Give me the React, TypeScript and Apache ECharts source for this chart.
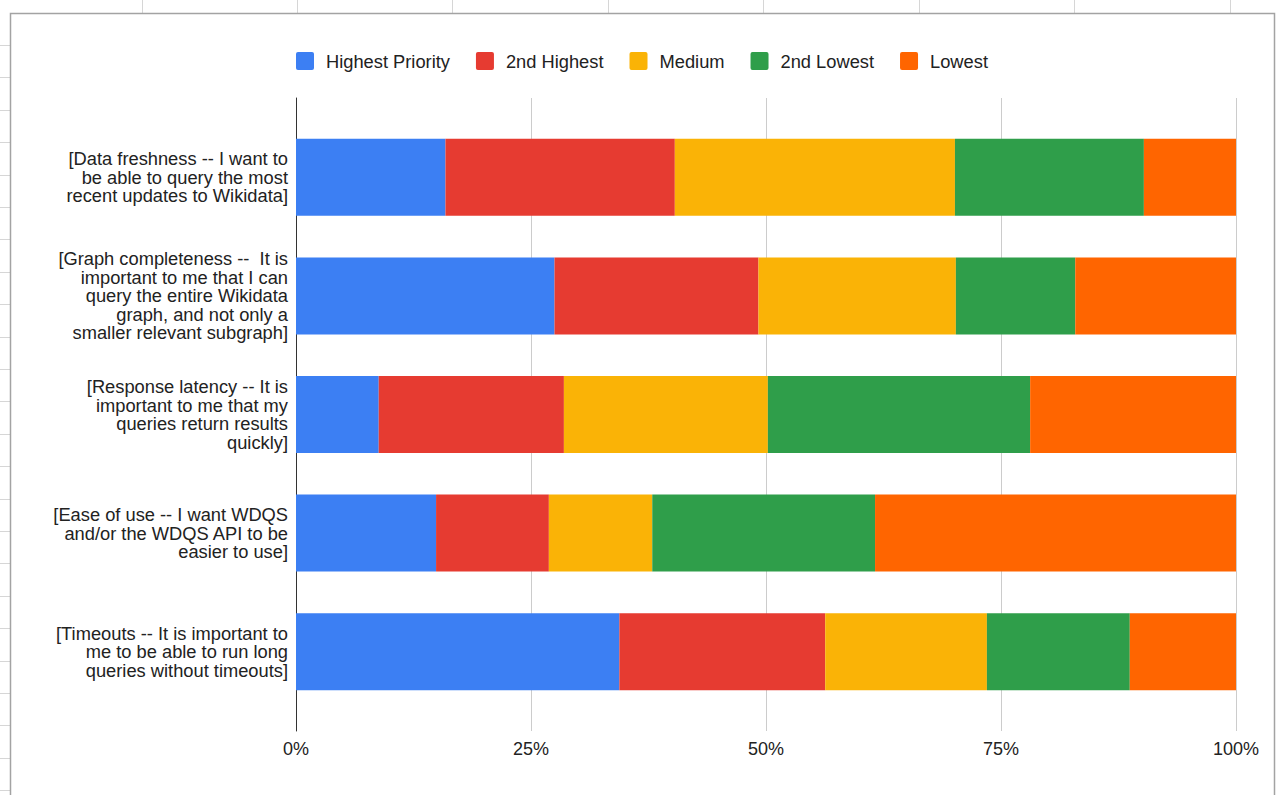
import React, { useEffect, useRef } from "react";
import * as echarts from "echarts";

const categories = [
  "[Data freshness -- I want to\nbe able to query the most\nrecent updates to Wikidata]",
  "[Graph completeness --  It is\nimportant to me that I can\nquery the entire Wikidata\ngraph, and not only a\nsmaller relevant subgraph]",
  "[Response latency -- It is\nimportant to me that my\nqueries return results\nquickly]",
  "[Ease of use -- I want WDQS\nand/or the WDQS API to be\neasier to use]",
  "[Timeouts -- It is important to\nme to be able to run long\nqueries without timeouts]",
];

const seriesNames = ["Highest Priority", "2nd Highest", "Medium", "2nd Lowest", "Lowest"];
const highestPriority = [15.9, 27.5, 8.8, 14.9, 34.4];
const secondHighest = [24.4, 21.7, 19.7, 12.0, 21.9];
const medium = [29.8, 21.0, 21.7, 11.0, 17.2];
const secondLowest = [20.1, 12.7, 27.9, 23.7, 15.2];
const lowest = [9.8, 17.1, 21.9, 38.4, 11.3];
const seriesValues = [highestPriority, secondHighest, medium, secondLowest, lowest];
const colors = ["#3c7ff3", "#e63b31", "#fab306", "#2f9e4a", "#ff6500"];
const xMin = 0;
const xMax = 100;
const xInterval = 25;

const FONT = "'Liberation Sans', Arial, Helvetica, sans-serif";

export default function App() {
  const ref = useRef<HTMLDivElement>(null);
  useEffect(() => {
    if (!ref.current) return;
    const chart = echarts.init(ref.current, null, { renderer: "svg" });

    const decor: any[] = [];
    // spreadsheet cell lines outside the chart frame
    [142, 297, 452, 608, 763, 919, 1074, 1230].forEach((x) => {
      decor.push({
        type: "line",
        shape: { x1: x + 0.5, y1: 0, x2: x + 0.5, y2: 13 },
        style: { stroke: "#d6d6d6", lineWidth: 1 },
        silent: true,
      });
    });
    for (let i = 0; i < 24; i++) {
      const y = Math.round(45 + i * 32.4) + 0.5;
      decor.push({
        type: "line",
        shape: { x1: 0, y1: y, x2: 10, y2: y },
        style: { stroke: "#d6d6d6", lineWidth: 1 },
        silent: true,
      });
    }
    decor.push({
      type: "rect",
      shape: { x: 10.5, y: 13.5, width: 1264, height: 900 },
      style: { fill: "none", stroke: "#a3a3a3", lineWidth: 1.5 },
      silent: true,
    });

    chart.setOption({
      animation: false,
      backgroundColor: "#ffffff",
      color: colors,
      textStyle: { fontFamily: FONT },
      graphic: decor,
      legend: {
        left: 296,
        top: 52,
        padding: 0,
        itemWidth: 18,
        itemHeight: 18,
        itemGap: 26,
        icon: "path://M2 0h14a2 2 0 0 1 2 2v14a2 2 0 0 1-2 2H2a2 2 0 0 1-2-2V2a2 2 0 0 1 2-2z",
        textStyle: { fontSize: 18.3, color: "#222222", fontFamily: FONT, padding: [0, 0, 0, 7] },
        data: seriesNames,
      },
      grid: [
        { left: 296, width: 940, top: 98, height: 633 },
        { left: 296, width: 940, top: 118, height: 593 },
      ],
      xAxis: [
        {
          gridIndex: 0,
          type: "value",
          min: xMin,
          max: xMax,
          interval: xInterval,
          axisLine: { show: false },
          axisTick: { show: false },
          splitLine: { show: true, lineStyle: { color: "#cccccc", width: 1 } },
          axisLabel: {
            formatter: "{value}%",
            fontSize: 18,
            color: "#222222",
            fontFamily: FONT,
            margin: 9,
          },
        },
        {
          gridIndex: 1,
          type: "value",
          min: xMin,
          max: xMax,
          show: false,
        },
      ],
      yAxis: [
        {
          gridIndex: 0,
          type: "value",
          axisLine: { show: true, lineStyle: { color: "#333333", width: 1 } },
          axisTick: { show: false },
          axisLabel: { show: false },
          splitLine: { show: false },
        },
        {
          gridIndex: 1,
          type: "category",
          inverse: true,
          data: categories,
          axisLine: { show: false },
          axisTick: { show: false },
          splitLine: { show: false },
          axisLabel: {
            fontSize: 18.3,
            lineHeight: 18.5,
            color: "#222222",
            fontFamily: FONT,
            align: "right",
            margin: 8,
          },
        },
      ],
      series: seriesNames.map((name, i) => ({
        name,
        type: "bar",
        stack: "total",
        xAxisIndex: 1,
        yAxisIndex: 1,
        barWidth: 77,
        data: seriesValues[i],
        itemStyle: { color: colors[i] },
        emphasis: { disabled: true },
      })),
    });
    return () => chart.dispose();
  }, []);

  return (
    <div
      ref={ref}
      style={{ position: "fixed", left: 0, top: 0, width: 1276, height: 795, background: "#fff" }}
    />
  );
}
